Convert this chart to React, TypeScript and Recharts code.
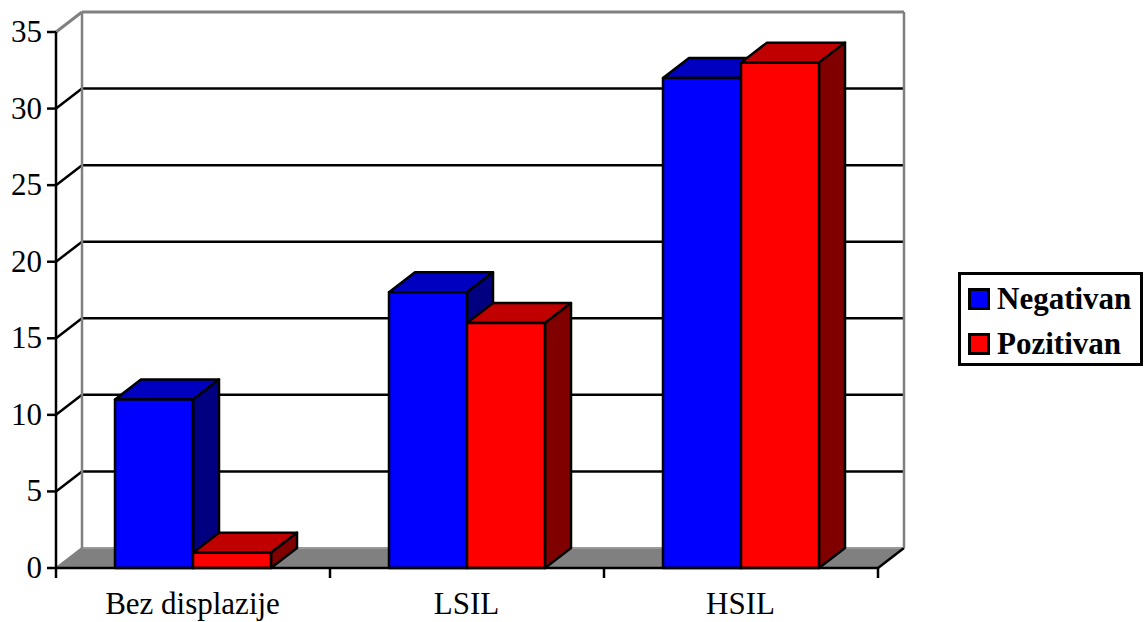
import { BarChart, Bar, XAxis, YAxis, Legend, ReferenceLine } from "recharts";

const categories = ["Bez displazije", "LSIL", "HSIL"];
const negativan = [11, 18, 32];
const pozitivan = [1, 16, 33];
const yTicks = [0, 5, 10, 15, 20, 25, 30, 35];

const chartData = categories.map((name, i) => ({
  name,
  negativan: negativan[i],
  pozitivan: pozitivan[i],
}));

const FONT = '"Liberation Serif", "Times New Roman", serif';
// oblique offset between the front plane and the back wall
const DX = 26;
const DY = -20;
const PLOT_W = 822;
const BAND = PLOT_W / categories.length;
const GRAY = "#808080";
const LINE = 2.5;

function Box3D(props: any) {
  const { x, y, width, height, fill, topFill, sideFill } = props;
  const r = x + width;
  const b = y + height;
  return (
    <g stroke="#000" strokeWidth={LINE} strokeLinejoin="round">
      <polygon points={`${x},${y} ${x + DX},${y + DY} ${r + DX},${y + DY} ${r},${y}`} fill={topFill} />
      <polygon points={`${r},${y} ${r + DX},${y + DY} ${r + DX},${b + DY} ${r},${b}`} fill={sideFill} />
      <rect x={x} y={y} width={width} height={height} fill={fill} />
    </g>
  );
}

// Each reference line is drawn on the back wall, with its diagonal to the front plane
function WallLine(props: any) {
  const { x1: x, y1: y, value } = props;
  const isFloor = value === 0;
  const isTop = value === 35;
  const lineColor = isTop ? GRAY : "#000";
  return (
    <g>
      {isFloor && (
        <g>
          <polygon
            points={`${x},${y} ${x + DX},${y + DY} ${x + DX + PLOT_W},${y + DY} ${x + PLOT_W},${y}`}
            fill={GRAY}
          />
          <line x1={x + DX} y1={y + DY} x2={x + DX + PLOT_W} y2={y + DY} stroke="#999" strokeWidth={2} />
          <line x1={x} y1={y} x2={x + DX} y2={y + DY} stroke={GRAY} strokeWidth={2} />
          <line x1={x + PLOT_W} y1={y} x2={x + PLOT_W + DX} y2={y + DY} stroke="#000" strokeWidth={LINE} />
        </g>
      )}
      {isTop && (
        <g stroke={GRAY} strokeWidth={2.5}>
          <line x1={x + DX} y1={y + DY} x2={x + DX} y2={y + DY + 536} />
          <line x1={x + DX + PLOT_W} y1={y + DY} x2={x + DX + PLOT_W} y2={y + DY + 536} />
        </g>
      )}
      {!isFloor && (
        <g stroke={lineColor} strokeWidth={isTop ? 3 : LINE}>
          <line x1={x} y1={y} x2={x + DX} y2={y + DY} />
          <line x1={x + DX} y1={y + DY} x2={x + DX + PLOT_W} y2={y + DY} />
        </g>
      )}
    </g>
  );
}

function ValueTick(props: any) {
  const { x, y, payload } = props;
  return (
    <g>
      <line x1={x - 9} y1={y} x2={x} y2={y} stroke="#000" strokeWidth={LINE} />
      <text x={x - 14} y={y + 10} textAnchor="end" fontFamily={FONT} fontSize={31} fill="#000">
        {payload.value}
      </text>
    </g>
  );
}

function CategoryTick(props: any) {
  const { x, y, payload, index } = props;
  const edge = x - BAND / 2;
  return (
    <g>
      <line x1={edge} y1={y} x2={edge} y2={y + 10} stroke="#000" strokeWidth={LINE} />
      {index === categories.length - 1 && (
        <line x1={edge + BAND} y1={y} x2={edge + BAND} y2={y + 10} stroke="#000" strokeWidth={LINE} />
      )}
      <text x={x - 0.5} y={y + 46} textAnchor="middle" fontFamily={FONT} fontSize={31} fill="#000">
        {payload.value}
      </text>
    </g>
  );
}

function LegendBox({ payload }: any) {
  return (
    <div
      style={{
        boxSizing: "border-box",
        width: 185,
        height: 94,
        border: "3px solid #000",
        background: "#fff",
        padding: "1px 0 0 7px",
        fontFamily: FONT,
        fontWeight: "bold",
        fontSize: 31,
        color: "#000",
      }}
    >
      {(payload ?? []).map((entry: any) => (
        <div key={entry.value} style={{ display: "flex", alignItems: "center", height: 45 }}>
          <span
            style={{
              boxSizing: "border-box",
              width: 22,
              height: 22,
              marginRight: 7,
              border: "3px solid #000",
              background: entry.color,
            }}
          />
          {entry.value}
        </div>
      ))}
    </div>
  );
}

export default function App() {
  return (
    <div style={{ position: "absolute", left: 0, top: 0, width: 1144, height: 622, background: "#fff" }}>
      <BarChart
        width={1144}
        height={622}
        data={chartData}
        margin={{ top: 32, right: 266, bottom: 0, left: 0 }}
        barSize={78}
        barGap={0}
      >
        <YAxis
          width={56}
          domain={[0, 35]}
          ticks={yTicks}
          interval={0}
          tickSize={0}
          tickMargin={0}
          tickLine={false}
          axisLine={{ stroke: "#000", strokeWidth: LINE }}
          tick={<ValueTick />}
        />
        <XAxis
          dataKey="name"
          height={54}
          interval={0}
          tickSize={0}
          tickMargin={0}
          tickLine={false}
          axisLine={{ stroke: "#000", strokeWidth: LINE }}
          tick={<CategoryTick />}
        />
        {yTicks.map((v) => (
          <ReferenceLine key={v} y={v} ifOverflow="visible" zIndex={100} shape={<WallLine value={v} />} />
        ))}
        <Bar
          dataKey="negativan"
          name="Negativan"
          fill="#0000ff"
          isAnimationActive={false}
          shape={<Box3D topFill="#0000c0" sideFill="#000080" />}
        />
        <Bar
          dataKey="pozitivan"
          name="Pozitivan"
          fill="#ff0000"
          isAnimationActive={false}
          shape={<Box3D topFill="#c00000" sideFill="#800000" />}
        />
        <Legend
          layout="vertical"
          align="center"
          verticalAlign="middle"
          content={<LegendBox />}
          wrapperStyle={{ left: 958, top: 272, width: 185, height: 94 }}
        />
      </BarChart>
    </div>
  );
}
